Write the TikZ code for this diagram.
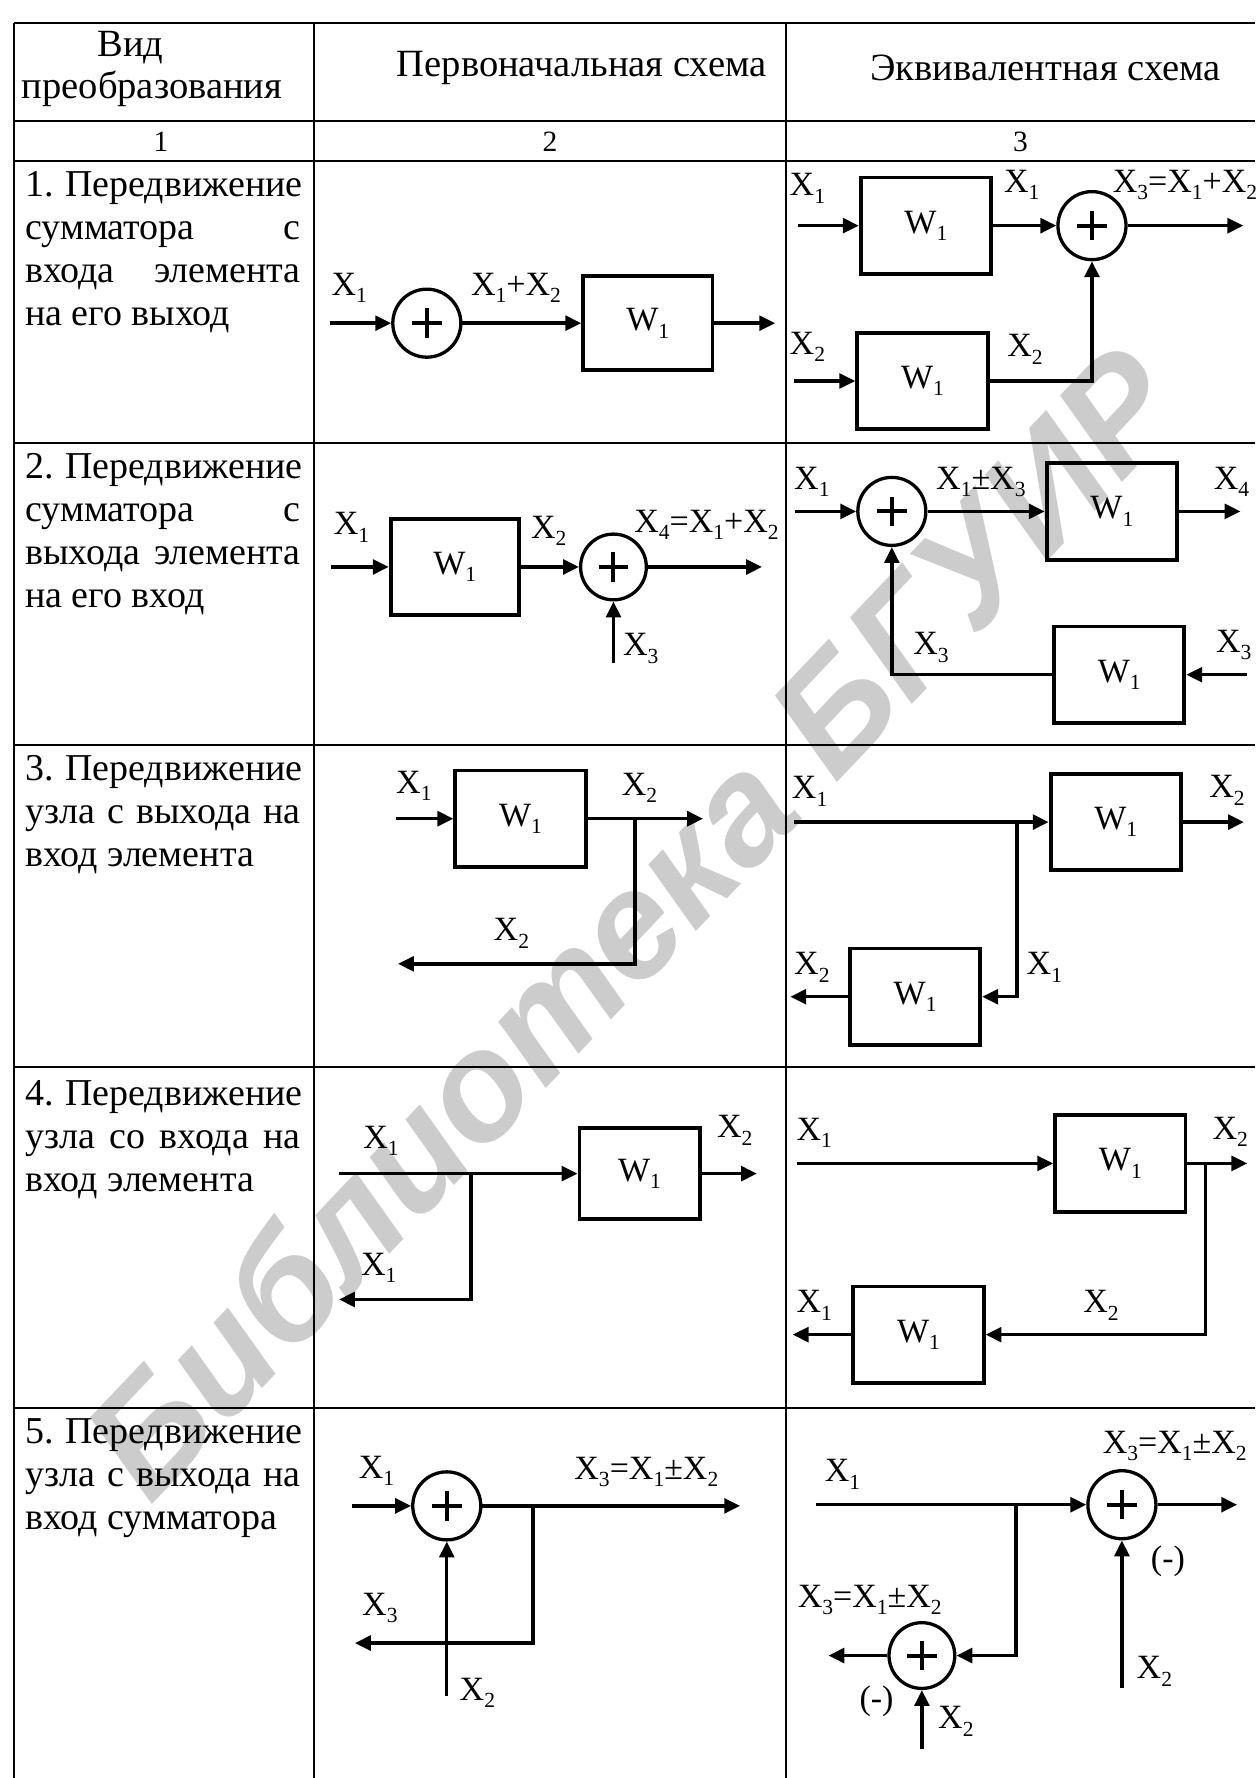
\documentclass[tikz,border=0pt]{standalone}
\usepackage{fontspec}
\setmainfont{Liberation Serif}
\newfontfamily\wmfont{Liberation Sans}
\usetikzlibrary{arrows.meta}
\newcommand\fsz[1]{\fontsize{#1}{#1}\selectfont}
\newcommand\sbx[1]{\raisebox{-0.22em}{\fsz{19}#1}}
\newcommand\plussign[1]{\draw[line width=3.5pt] ([xshift=-13pt]#1.center) -- ([xshift=13pt]#1.center) ([yshift=-13pt]#1.center) -- ([yshift=13pt]#1.center);}
\tikzset{
  tline/.style={line width=1.8pt},
  blk/.style={draw, line width=3.4pt, minimum width=115pt, minimum height=85pt, inner sep=0pt, font=\fsz{30}},
  sumn/.style={draw, circle, line width=2.9pt, minimum size=60pt, inner sep=0pt},
  sig/.style={line width=3pt, -{Triangle[length=14pt,width=13pt]}},
  lbl/.style={inner sep=0pt, font=\fsz{30}},
  hdr/.style={inner sep=0pt, font=\fsz{34}},
  num/.style={inner sep=0pt, font=\fsz{26}},
  rowtxt/.style={anchor=base west, inner sep=0pt, font=\fsz{33.5}},
}
\newcommand\jl[1]{\makebox[243pt][s]{#1}}
\begin{document}
\begin{tikzpicture}[x=1pt,y=-1pt]
\useasboundingbox (0,0) rectangle (1107,1568);
% watermark
\node[rotate=46.5, text=black!20, font=\wmfont\bfseries\itshape\fsz{134}, inner sep=0pt] (wm) at (556,812) {Библиотека БГУИР};
% table
\draw[tline] (12,20) -- (1107,20);
\foreach \yy in {107,142,391,657,941,1242} \draw[tline] (12,\yy) -- (1107,\yy);
\draw[tline] (12,20) -- (12,1568);
\draw[tline] (277,20) -- (277,1568);
\draw[tline] (693,20) -- (693,1568);
% header
\node[hdr] (h1a) at (115,42) {Вид};
\node[hdr] (h1b) at (134,78) {преобразования};
\node[hdr] (h2) at (513,60) {Первоначальная схема};
\node[hdr] (h3) at (922,60) {Эквивалентная схема};
\node[num] (n1) at (142,125) {1};
\node[num] (n2) at (485,125) {2};
\node[num] (n3) at (900,125) {3};
% left column
\node[rowtxt] (t1a) at (22,173) {\jl{1. Передвижение}};
\node[rowtxt] (t1b) at (22,211) {\jl{сумматора с}};
\node[rowtxt] (t1c) at (22,249) {\jl{входа элемента}};
\node[rowtxt] (t1d) at (22,287) {на его выход};
\node[rowtxt] (t2a) at (22,422) {\jl{2. Передвижение}};
\node[rowtxt] (t2b) at (22,460) {\jl{сумматора с}};
\node[rowtxt] (t2c) at (22,498) {\jl{выхода элемента}};
\node[rowtxt] (t2d) at (22,536) {на его вход};
\node[rowtxt] (t3a) at (22,688) {\jl{3. Передвижение}};
\node[rowtxt] (t3b) at (22,726) {\jl{узла с выхода на}};
\node[rowtxt] (t3c) at (22,764) {вход элемента};
\node[rowtxt] (t4a) at (22,975) {\jl{4. Передвижение}};
\node[rowtxt] (t4b) at (22,1013) {\jl{узла со входа на}};
\node[rowtxt] (t4c) at (22,1051) {вход элемента};
\node[rowtxt] (t5a) at (22,1273) {\jl{5. Передвижение}};
\node[rowtxt] (t5b) at (22,1311) {\jl{узла с выхода на}};
\node[rowtxt] (t5c) at (22,1349) {вход сумматора};

% ===== Row 1, col 2
\coordinate (r1in) at (291,285);
\node[sumn] (r1s) at (376.4,285) {};
\plussign{r1s}
\node[blk, minimum width=114pt, minimum height=83pt] (r1b) at (571.3,285) {W\sbx{1}};
\coordinate (r1out) at (683.6,285);
\draw[sig] (r1in) -- (r1s);
\draw[sig] (r1s) -- (r1b);
\draw[sig] (r1b) -- (r1out);
\node[lbl] (r1l1) at (308,254) {X\sbx{1}};
\node[lbl] (r1l2) at (455,254) {X\sbx{1}+X\sbx{2}};
% ===== Row 1, col 3
\node[blk] (r1t) at (816.5,199) {W\sbx{1}};
\node[sumn] (r1c) at (963,199) {};
\plussign{r1c}
\node[blk] (r1u) at (813.5,336) {W\sbx{1}};
\coordinate (r1ti) at (704,199);
\coordinate (r1co) at (1096.5,199);
\coordinate (r1ui) at (700,336);
\draw[sig] (r1ti) -- (r1t);
\draw[sig] (r1t) -- (r1c);
\draw[sig] (r1c) -- (r1co);
\draw[sig] (r1ui) -- (r1u);
\draw[sig] (r1u.east) -| (r1c.south);
\node[lbl] (r1l3) at (712,166) {X\sbx{1}};
\node[lbl] (r1l4) at (901,163) {X\sbx{1}};
\node[lbl] (r1l5) at (1045,163) {X\sbx{3}=X\sbx{1}+X\sbx{2}};
\node[lbl] (r1l6) at (712,306) {X\sbx{2}};
\node[lbl] (r1l7) at (904,308) {X\sbx{2}};

% ===== Row 2, col 2
\coordinate (r2in) at (291.7,500);
\node[blk, minimum width=113pt, minimum height=85pt] (r2b) at (401,500) {W\sbx{1}};
\node[sumn, minimum size=58pt] (r2s) at (541,500) {};
\plussign{r2s}
\coordinate (r2out) at (672,500);
\coordinate (r2x3) at (541,585);
\draw[sig] (r2in) -- (r2b);
\draw[sig] (r2b) -- (r2s);
\draw[sig] (r2s) -- (r2out);
\draw[sig] (r2x3) -- (r2s);
\node[lbl] (r2l1) at (310,465) {X\sbx{1}};
\node[lbl] (r2l2) at (484,468) {X\sbx{2}};
\node[lbl] (r2l3) at (623,463) {X\sbx{4}=X\sbx{1}+X\sbx{2}};
\node[lbl] (r2l4) at (565,572) {X\sbx{3}};
% ===== Row 2, col 3
\coordinate (r2ci) at (701,451);
\node[sumn] (r2c) at (786.5,451) {};
\plussign{r2c}
\node[blk] (r2t) at (980.5,451) {W\sbx{1}};
\coordinate (r2to) at (1094,451);
\node[blk] (r2u) at (987,595) {W\sbx{1}};
\coordinate (r2ui) at (1099.7,595);
\draw[sig] (r2ci) -- (r2c);
\draw[sig] (r2c) -- (r2t);
\draw[sig] (r2t) -- (r2to);
\draw[sig] (r2ui) -- (r2u);
\draw[sig] (r2u.west) -| (r2c.south);
\node[lbl] (r2l5) at (716,425) {X\sbx{1}};
\node[lbl] (r2l6) at (865,425) {X\sbx{1}±X\sbx{3}};
\node[lbl] (r2l7) at (1086,425) {X\sbx{4}};
\node[lbl] (r2l8) at (1088,569) {X\sbx{3}};
\node[lbl] (r2l9) at (821,571) {X\sbx{3}};

% ===== Row 3, col 2
\coordinate (r3in) at (349,722);
\node[blk] (r3b) at (459,722) {W\sbx{1}};
\coordinate (r3out) at (620,722);
\coordinate (r3j) at (560,722);
\coordinate (r3e) at (351,850);
\draw[sig] (r3in) -- (r3b);
\draw[sig] (r3b) -- (r3out);
\draw[sig] (r3j) |- (r3e);
\node[lbl] (r3l1) at (365,693) {X\sbx{1}};
\node[lbl] (r3l2) at (564,695) {X\sbx{2}};
\node[lbl] (r3l3) at (451,823) {X\sbx{2}};
% ===== Row 3, col 3
\coordinate (r3ci) at (700,725);
\node[blk] (r3t) at (984,725) {W\sbx{1}};
\coordinate (r3to) at (1097,725);
\coordinate (r3j2) at (897,725);
\node[blk] (r3u) at (807,879) {W\sbx{1}};
\coordinate (r3uo) at (697,879);
\draw[sig] (r3ci) -- (r3t);
\draw[sig] (r3t) -- (r3to);
\draw[sig] (r3j2) |- (r3u.east);
\draw[sig] (r3u) -- (r3uo);
\node[lbl] (r3l4) at (714,698) {X\sbx{1}};
\node[lbl] (r3l5) at (1082,697) {X\sbx{2}};
\node[lbl] (r3l6) at (716,853) {X\sbx{2}};
\node[lbl] (r3l7) at (921,853) {X\sbx{1}};

% ===== Row 4, col 2
\coordinate (r4in) at (299,1035);
\node[blk, minimum width=106pt, minimum height=80pt] (r4b) at (564,1035) {W\sbx{1}};
\coordinate (r4out) at (667.5,1035);
\coordinate (r4j) at (415.4,1035);
\coordinate (r4e) at (299,1146);
\draw[sig] (r4in) -- (r4b);
\draw[sig] (r4b) -- (r4out);
\draw[sig] (r4j) |- (r4e);
\node[lbl] (r4l1) at (336,1006) {X\sbx{1}};
\node[lbl] (r4l2) at (648,997) {X\sbx{2}};
\node[lbl] (r4l3) at (334,1118) {X\sbx{1}};
% ===== Row 4, col 3
\coordinate (r4ci) at (703,1026);
\node[blk] (r4t) at (988,1026) {W\sbx{1}};
\coordinate (r4to) at (1100,1026);
\coordinate (r4j2) at (1063,1026);
\node[blk] (r4u) at (810,1177) {W\sbx{1}};
\coordinate (r4uo) at (699,1177);
\draw[sig] (r4ci) -- (r4t);
\draw[sig] (r4t) -- (r4to);
\draw[sig] (r4j2) |- (r4u.east);
\draw[sig] (r4u) -- (r4uo);
\node[lbl] (r4l4) at (718,999) {X\sbx{1}};
\node[lbl] (r4l5) at (1085,998) {X\sbx{2}};
\node[lbl] (r4l6) at (718,1151) {X\sbx{1}};
\node[lbl] (r4l7) at (971,1151) {X\sbx{2}};

% ===== Row 5, col 2
\coordinate (r5in) at (310,1328);
\node[sumn] (r5s) at (394,1328) {};
\plussign{r5s}
\coordinate (r5out) at (652.7,1328);
\coordinate (r5j) at (470,1328);
\coordinate (r5e) at (313,1449);
\coordinate (r5x2) at (394,1496);
\draw[sig] (r5in) -- (r5s);
\draw[sig] (r5s) -- (r5out);
\draw[sig] (r5j) |- (r5e);
\draw[sig] (r5x2) -- (r5s);
\node[lbl] (r5l1) at (332,1297) {X\sbx{1}};
\node[lbl] (r5l2) at (570,1298) {X\sbx{3}=X\sbx{1}±X\sbx{2}};
\node[lbl] (r5l3) at (335,1418) {X\sbx{3}};
\node[lbl] (r5l4) at (421,1493) {X\sbx{2}};
% ===== Row 5, col 3
\coordinate (r5ci) at (720,1327);
\node[sumn] (r5c) at (989.4,1327) {};
\plussign{r5c}
\coordinate (r5co) at (1091,1327);
\coordinate (r5x2b) at (989.4,1489);
\coordinate (r5j2) at (896,1327);
\node[sumn, minimum size=58pt] (r5d) at (813,1460) {};
\plussign{r5d}
\coordinate (r5do) at (730.6,1460);
\coordinate (r5x2c) at (813,1542);
\draw[sig] (r5ci) -- (r5c);
\draw[sig] (r5c) -- (r5co);
\draw[sig] (r5x2b) -- (r5c);
\draw[sig] (r5j2) |- (r5d.east);
\draw[sig] (r5d) -- (r5do);
\draw[sig] (r5x2c) -- (r5d);
\node[lbl] (r5l5) at (743,1300) {X\sbx{1}};
\node[lbl] (r5l6) at (1036,1275) {X\sbx{3}=X\sbx{1}±X\sbx{2}};
\node[lbl] (r5l7) at (1030,1377) {(-)};
\node[lbl] (r5l8) at (1018,1474) {X\sbx{2}};
\node[lbl] (r5l9) at (767,1411) {X\sbx{3}=X\sbx{1}±X\sbx{2}};
\node[lbl] (r5l10) at (773,1500) {(-)};
\node[lbl] (r5l11) at (843,1518) {X\sbx{2}};
\end{tikzpicture}
\end{document}
